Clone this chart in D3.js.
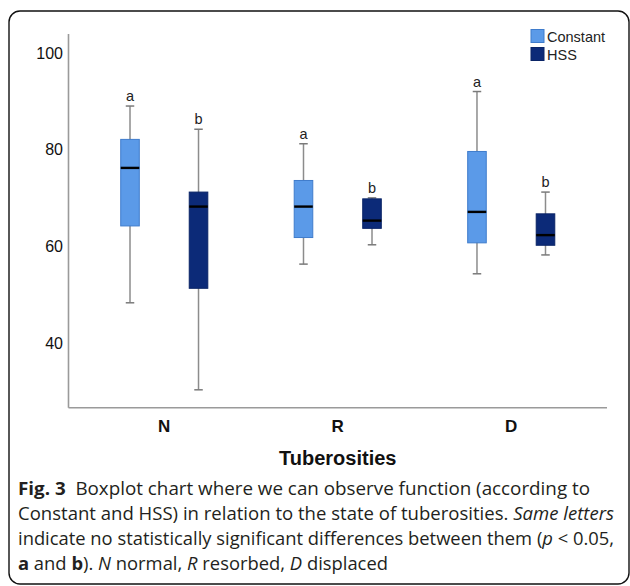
<!DOCTYPE html>
<html>
<head>
<meta charset="utf-8">
<script src="https://cdn.jsdelivr.net/npm/d3@7"></script>
<style>
html,body{margin:0;padding:0;background:#fff;}
svg{display:block;}
</style>
</head>
<body>
<svg id="chart" width="630" height="586"></svg>
<script>
// ---- data ----
const categories = ["N", "R", "D"];
const series = ["Constant", "HSS"];
// [whiskerLow, q1, median, q3, whiskerHigh]
const constantStats = [
  [48.3, 64.2, 76.2, 82.1, 89.0],
  [56.3, 61.8, 68.2, 73.6, 81.2],
  [54.3, 60.7, 67.1, 79.6, 92.0]
];
const hssStats = [
  [30.3, 51.3, 68.2, 71.2, 84.2],
  [60.3, 63.7, 65.3, 69.8, 70.0],
  [58.2, 60.2, 62.3, 66.7, 71.2]
];
const constantLetters = ["a", "a", "a"];
const hssLetters = ["b", "b", "b"];
const yTicks = [40, 60, 80, 100];
const colors = {Constant: "#5b9ae8", HSS: "#0c2a78"};
const strokeColors = {Constant: "#3f7ccc", HSS: "#0a2466"};

const rows = [];
categories.forEach((c, i) => {
  rows.push({cat: c, ser: "Constant", s: constantStats[i], letter: constantLetters[i]});
  rows.push({cat: c, ser: "HSS", s: hssStats[i], letter: hssLetters[i]});
});

const svg = d3.select("#chart");

// outer frame
svg.append("rect").attr("x", 9).attr("y", 11).attr("width", 620).attr("height", 573)
  .attr("rx", 11).attr("fill", "none").attr("stroke", "#111").attr("stroke-width", 1.4);

const pL = 68.5, pR = 607, pT = 34, pB = 407.7;
const y = d3.scaleLinear().domain([26.6, 103.9]).range([pB, pT]);
const x = d3.scaleBand().domain(categories).range([pL, pR]).paddingInner(0).paddingOuter(0.052);
const xs = d3.scalePoint().domain(series).range([0, x.bandwidth()]).padding(0.766);
const bw = x.bandwidth() * 0.107;
const capW = 8.5;

// axes lines
svg.append("line").attr("x1", pL).attr("x2", pL).attr("y1", pT).attr("y2", pB)
  .attr("stroke", "#9a9a9a").attr("stroke-width", 1.6);
svg.append("line").attr("x1", pL).attr("x2", pR).attr("y1", pB).attr("y2", pB)
  .attr("stroke", "#9a9a9a").attr("stroke-width", 1.6);

// y tick labels
svg.append("g").selectAll("text").data(yTicks).join("text")
  .attr("x", 63).attr("y", d => y(d)).attr("dy", "0.36em")
  .attr("text-anchor", "end")
  .attr("font-family", "Liberation Sans, Arial, sans-serif")
  .attr("font-size", 16).attr("fill", "#111")
  .text(d => d);

// category labels
svg.append("g").selectAll("text").data(categories).join("text")
  .attr("x", d => x(d) + x.bandwidth() / 2).attr("y", 432)
  .attr("text-anchor", "middle")
  .attr("font-family", "Liberation Sans, Arial, sans-serif")
  .attr("font-weight", "bold").attr("font-size", 17).attr("fill", "#111")
  .text(d => d);

svg.append("text").attr("x", (pL + pR) / 2).attr("y", 465)
  .attr("text-anchor", "middle")
  .attr("font-family", "Liberation Sans, Arial, sans-serif")
  .attr("font-weight", "bold").attr("font-size", 20).attr("fill", "#111")
  .text("Tuberosities");

// boxes
const g = svg.append("g").selectAll("g").data(rows).join("g")
  .attr("transform", d => `translate(${x(d.cat) + xs(d.ser)},0)`);

g.append("line").attr("x1", 0).attr("x2", 0)
  .attr("y1", d => y(d.s[0])).attr("y2", d => y(d.s[4]))
  .attr("stroke", "#8c8c8c").attr("stroke-width", 1.5);
g.append("line").attr("x1", -capW / 2).attr("x2", capW / 2)
  .attr("y1", d => y(d.s[4])).attr("y2", d => y(d.s[4]))
  .attr("stroke", "#7a7a7a").attr("stroke-width", 1.5);
g.append("line").attr("x1", -capW / 2).attr("x2", capW / 2)
  .attr("y1", d => y(d.s[0])).attr("y2", d => y(d.s[0]))
  .attr("stroke", "#7a7a7a").attr("stroke-width", 1.5);
g.append("rect").attr("x", -bw / 2).attr("width", bw)
  .attr("y", d => y(d.s[3])).attr("height", d => y(d.s[1]) - y(d.s[3]))
  .attr("fill", d => colors[d.ser]).attr("stroke", d => strokeColors[d.ser]).attr("stroke-width", 1);
g.append("line").attr("x1", -bw / 2).attr("x2", bw / 2)
  .attr("y1", d => y(d.s[2])).attr("y2", d => y(d.s[2]))
  .attr("stroke", "#000").attr("stroke-width", 2.4);
g.append("text").attr("x", 0).attr("y", d => y(d.s[4]) - 5)
  .attr("text-anchor", "middle")
  .attr("font-family", "Liberation Sans, Arial, sans-serif")
  .attr("font-size", 14.5).attr("fill", "#222")
  .text(d => d.letter);

// legend
const leg = svg.append("g").selectAll("g").data(series).join("g")
  .attr("transform", (d, i) => `translate(531,${29.5 + i * 18})`);
leg.append("rect").attr("width", 13).attr("height", 13)
  .attr("fill", d => colors[d]).attr("stroke", d => strokeColors[d]).attr("stroke-width", 1);
leg.append("text").attr("x", 16).attr("y", 12)
  .attr("font-family", "Liberation Sans, Arial, sans-serif")
  .attr("font-size", 14.5).attr("fill", "#222")
  .text(d => d);

// caption
const capFont = "Open Sans, Noto Sans, sans-serif";
const capLines = [
  {y: 495, len: 572, parts: [["Fig. 3", "bold", "normal"], ["  Boxplot chart where we can observe function (according to", "normal", "normal"]]},
  {y: 520, len: 596, parts: [["Constant and HSS) in relation to the state of tuberosities. ", "normal", "normal"], ["Same letters", "normal", "italic"]]},
  {y: 545, len: 596, parts: [["indicate no statistically significant differences between them (", "normal", "normal"], ["p", "normal", "italic"], [" < 0.05,", "normal", "normal"]]},
  {y: 570, len: 370, parts: [["a", "bold", "normal"], [" and ", "normal", "normal"], ["b", "bold", "normal"], ["). ", "normal", "normal"], ["N", "normal", "italic"], [" normal, ", "normal", "normal"], ["R", "normal", "italic"], [" resorbed, ", "normal", "normal"], ["D", "normal", "italic"], [" displaced", "normal", "normal"]]}
];
capLines.forEach(l => {
  const t = svg.append("text").attr("x", 18).attr("y", l.y)
    .attr("font-family", capFont).attr("font-size", 17.5).attr("fill", "#231f20")
    .attr("xml:space", "preserve").style("white-space", "pre");
  l.parts.forEach(p => {
    t.append("tspan").attr("font-weight", p[1]).attr("font-style", p[2]).text(p[0]);
  });
  t.attr("textLength", l.len).attr("lengthAdjust", "spacingAndGlyphs");
});
</script>
</body>
</html>
